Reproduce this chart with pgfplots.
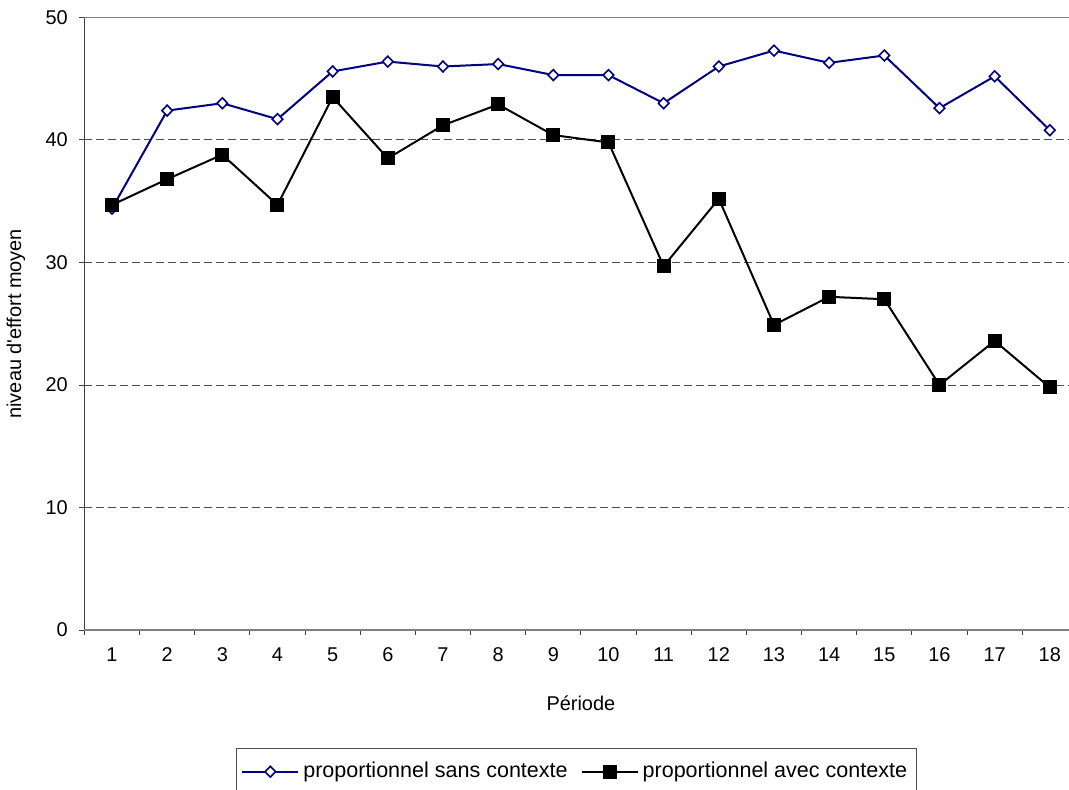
\documentclass[border=0pt]{standalone}
\usepackage{fontspec}
\setmainfont{Liberation Sans}
\usepackage{pgfplots}
\pgfplotsset{compat=1.18}
\definecolor{navy}{RGB}{0,0,128}
\begin{document}
\begin{tikzpicture}
\begin{axis}[
  at={(0,0)}, anchor=south west,
  scale only axis, width=496.5bp, height=306.25bp,
  xmin=0.5, xmax=18.5, ymin=0, ymax=50,
  axis x line*=bottom, axis y line*=left,
  axis line style={-, draw=black!75, line width=0.6bp},
  xtick={1,...,18}, minor xtick={0.5,1.5,...,18.5},
  ytick={10,20,30,40}, extra y ticks={0,50},
  extra y tick style={major grid style={solid, draw=gray, line width=0.6bp}},
  ymajorgrids,
  major grid style={dash pattern=on 4bp off 2bp, draw=black!70, line width=0.5bp},
  tick align=outside,
  major tick length=2.5bp, minor tick length=2.5bp,
  major x tick style={draw=none},
  tick style={black!75, line width=0.5bp},
  /pgf/number format/assume math mode=true,
  every tick label/.append style={font=\fontsize{10}{12}\selectfont},
  yticklabel style={xshift=-2.3bp},
  xticklabel style={yshift=-2.7bp},
  xlabel={Période},
  xlabel style={at={(axis description cs:0.5,-0.1192)}, anchor=center, font=\fontsize{10}{12}\selectfont},
  ylabel={niveau d\textquotesingle effort moyen},
  ylabel style={at={(axis description cs:-0.0689,0.5)}, anchor=center, font=\fontsize{10}{12}\selectfont},
  legend columns=2,
  legend style={at={(0.1525,-0.1925)}, anchor=north west, draw=black!70, line width=0.5bp,
    font=\fontsize{10.8}{13}\selectfont, inner xsep=2.5bp, inner ysep=5bp,
    /tikz/every even column/.append style={column sep=4.5bp}},
  legend image code/.code={\draw[mark repeat=2, mark phase=2, #1] plot coordinates {(0bp,0bp) (14bp,0bp) (28bp,0bp)};},
]
\addplot[navy, line width=1bp, mark=diamond*, mark size=2.7bp,
  mark options={fill=white, draw=navy, line width=0.8bp, xscale=1.3}] coordinates {
(1,34.4) (2,42.4) (3,43.0) (4,41.7) (5,45.6) (6,46.4) (7,46.0) (8,46.2) (9,45.3)
(10,45.3) (11,43.0) (12,46.0) (13,47.3) (14,46.3) (15,46.9) (16,42.6) (17,45.2) (18,40.8)};
\addlegendentry{proportionnel sans contexte}
\addplot[black, line width=1bp, mark=square*, mark size=3bp] coordinates {
(1,34.7) (2,36.8) (3,38.8) (4,34.7) (5,43.5) (6,38.5) (7,41.2) (8,42.9) (9,40.4)
(10,39.8) (11,29.7) (12,35.2) (13,24.9) (14,27.2) (15,27.0) (16,20.0) (17,23.6) (18,19.8)};
\addlegendentry{proportionnel avec contexte}
\end{axis}
\pgfresetboundingbox
\useasboundingbox (-42.2bp,-80bp) rectangle (492.3bp,315bp);
\end{tikzpicture}
\end{document}
